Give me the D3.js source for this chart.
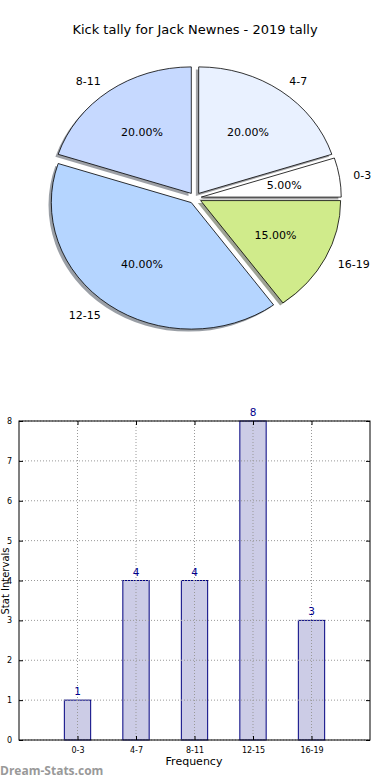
<!DOCTYPE html>
<html><head><meta charset="utf-8">
<script src="https://cdn.jsdelivr.net/npm/d3@7"></script>
<style>body{margin:0;background:#fff;} svg{display:block;font-family:"DejaVu Sans",sans-serif;}</style>
</head><body>
<svg id="c" width="390" height="780"></svg>
<script>
const categories = ["0-3","4-7","8-11","12-15","16-19"];
const values = [1,4,4,8,3];
const pieColors = ["#ffffff","#e9f1ff","#c6d9ff","#b5d5ff","#d0eb8b"];
const yTicks = [0,1,2,3,4,5,6,7,8];
const title = "Kick tally for Jack Newnes - 2019 tally";

const svg = d3.select("#c");

// ---- Title
svg.append("text").attr("x",195).attr("y",34).attr("text-anchor","middle")
  .attr("font-size",13).attr("fill","#000").text(title);

// ---- Pie (elliptical, matplotlib-style: start at 3 o'clock, counter-clockwise)
const cx = 195, cy = 198, rx = 140, ry = 126.5, explode = 0.045;
const total = d3.sum(values);
let acc = 0;
const wedges = values.map((v,i)=>{
  const t1 = acc/total*2*Math.PI; acc += v; const t2 = acc/total*2*Math.PI;
  return {i, v, t1, t2, mid:(t1+t2)/2};
});
const arc = d3.arc().innerRadius(0).outerRadius(1);
const pieG = svg.append("g");
function wedgeG(w, dx, dy){
  const ox = cx + Math.cos(w.mid)*explode*rx + dx;
  const oy = cy - Math.sin(w.mid)*explode*ry + dy;
  return pieG.append("g").attr("transform",`translate(${ox},${oy}) scale(${rx},${ry})`);
}
const arcD = w => arc({startAngle: Math.PI/2 - w.t2, endAngle: Math.PI/2 - w.t1});
// shadows
wedges.forEach(w=>{
  const c = d3.rgb(pieColors[w.i]);
  wedgeG(w,-2.8,2.5).append("path").attr("d",arcD(w))
    .attr("fill",d3.rgb(c.r*0.3,c.g*0.3,c.b*0.3)).attr("fill-opacity",0.5);
});
// wedges
wedges.forEach(w=>{
  wedgeG(w,0,0).append("path").attr("d",arcD(w))
    .attr("fill",pieColors[w.i]).attr("stroke","#000").attr("stroke-width",0.8)
    .attr("vector-effect","non-scaling-stroke");
});
// labels
wedges.forEach(w=>{
  const ox = cx + Math.cos(w.mid)*explode*rx;
  const oy = cy - Math.sin(w.mid)*explode*ry;
  const lx = ox + Math.cos(w.mid)*1.1*rx, ly = oy - Math.sin(w.mid)*1.1*ry;
  svg.append("text").attr("x",lx).attr("y",ly).attr("dy","0.35em")
    .attr("text-anchor", Math.cos(w.mid)>0 ? "start":"end")
    .attr("font-size",11).text(categories[w.i]);
  const px = ox + Math.cos(w.mid)*0.6*rx, py = oy - Math.sin(w.mid)*0.6*ry;
  svg.append("text").attr("x",px).attr("y",py).attr("dy","0.35em")
    .attr("text-anchor","middle").attr("font-size",11)
    .text((w.v/total*100).toFixed(2)+"%");
});

// ---- Bar chart
const L = 19, R = 370, T = 421, B = 740;
const x = d3.scaleLinear().domain([-1,5]).range([L,R]);
const y = d3.scaleLinear().domain([0,8]).range([B,T]);
const bw = 0.45;
const g = svg.append("g");

// bars
g.selectAll("rect.bar").data(values).join("rect")
  .attr("x",(d,i)=>x(i-bw/2)).attr("width",x(bw)-x(0))
  .attr("y",d=>y(d)).attr("height",d=>y(0)-y(d))
  .attr("fill","#000080").attr("fill-opacity",0.2)
  .attr("stroke","#000080").attr("stroke-width",1);

// grid
g.selectAll("line.gy").data(yTicks).join("line")
  .attr("x1",L).attr("x2",R).attr("y1",d=>y(d)).attr("y2",d=>y(d))
  .attr("stroke","#999").attr("stroke-width",1).attr("stroke-dasharray","1,2");
g.selectAll("line.gx").data(categories).join("line")
  .attr("x1",(d,i)=>x(i)).attr("x2",(d,i)=>x(i)).attr("y1",T).attr("y2",B)
  .attr("stroke","#999").attr("stroke-width",1).attr("stroke-dasharray","1,2");

// value labels
g.selectAll("text.val").data(values).join("text")
  .attr("x",(d,i)=>x(i)).attr("y",d=>y(d)-5).attr("text-anchor","middle")
  .attr("font-size",10.5).attr("fill","#00008b").text(d=>d);

// axes frame
g.append("rect").attr("x",L).attr("y",T).attr("width",R-L).attr("height",B-T)
  .attr("fill","none").attr("stroke","#000").attr("stroke-width",1);

// y ticks
const yAxis = d3.axisLeft(y).tickValues(yTicks).tickSizeInner(-4).tickSizeOuter(0).tickPadding(7);
const ya = g.append("g").attr("transform",`translate(${L},0)`).call(yAxis);
ya.select(".domain").remove();
ya.selectAll("text").attr("font-size",8).attr("font-family","DejaVu Sans");
const yAxisR = d3.axisRight(y).tickValues(yTicks).tickSizeInner(-4).tickSizeOuter(0).tickFormat("");
const yar = g.append("g").attr("transform",`translate(${R},0)`).call(yAxisR);
yar.select(".domain").remove();

// x ticks
const xAxis = d3.axisBottom(x).tickValues(d3.range(categories.length))
  .tickFormat(i=>categories[i]).tickSizeInner(-4).tickSizeOuter(0).tickPadding(7);
const xa = g.append("g").attr("transform",`translate(0,${B})`).call(xAxis);
xa.select(".domain").remove();
xa.selectAll("text").attr("font-size",8).attr("font-family","DejaVu Sans");
const xAxisT = d3.axisTop(x).tickValues(d3.range(categories.length))
  .tickFormat("").tickSizeInner(-4).tickSizeOuter(0);
const xat = g.append("g").attr("transform",`translate(0,${T})`).call(xAxisT);
xat.select(".domain").remove();

// axis titles
svg.append("text").attr("x",194).attr("y",765).attr("text-anchor","middle")
  .attr("font-size",11).text("Frequency");
svg.append("text").attr("transform","translate(9,581) rotate(-90)")
  .attr("text-anchor","middle").attr("font-size",10).text("Stat Intervals");

// watermark
svg.append("text").attr("x",0).attr("y",775).attr("font-size",12)
  .attr("fill","#999").attr("font-weight","bold").attr("font-family","\"Open Sans\",\"DejaVu Sans\",sans-serif")
  .text("Dream-Stats.com");
</script>
</body></html>
